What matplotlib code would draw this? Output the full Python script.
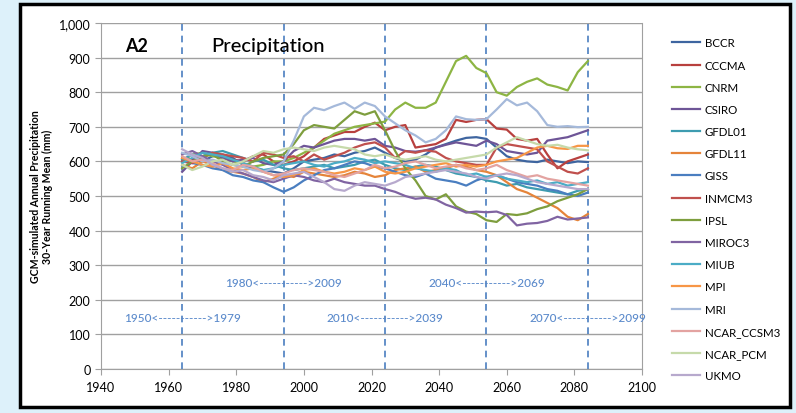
import matplotlib
matplotlib.use("Agg")
import matplotlib.pyplot as plt
from matplotlib.patches import Rectangle
from matplotlib.ticker import FuncFormatter

plt.rcParams['font.family'] = ['Lato', 'DejaVu Sans']

# 30-year running means, sampled every 3 years (1964 ... 2084)
years = list(range(1964, 2085, 3))

BCCR = [610, 605, 600, 615, 620, 610, 590, 580, 575, 570, 565, 580, 600, 605, 610, 620, 615, 625, 630, 640,
        625, 610, 600, 605, 620, 640, 650, 660, 668, 670, 665, 640, 615, 605, 600, 598, 605, 600, 595, 600, 598]
CCCMA = [610, 605, 615, 620, 610, 605, 600, 615, 620, 600, 590, 600, 615, 640, 665, 675, 685, 685, 700, 712,
         690, 700, 705, 640, 645, 650, 665, 720, 714, 720, 722, 695, 692, 665, 660, 665, 620, 580, 600, 610, 620]
CNRM = [600, 620, 625, 615, 610, 600, 595, 585, 590, 600, 600, 610, 625, 640, 660, 680, 690, 700, 705, 710,
        715, 750, 770, 755, 755, 770, 830, 890, 905, 870, 855, 800, 790, 815, 830, 840, 822, 815, 805, 858, 890]
CSIRO = [570, 600, 630, 625, 610, 600, 605, 610, 595, 590, 600, 630, 645, 640, 650, 660, 665, 665, 660, 665,
         645, 640, 630, 628, 632, 640, 648, 655, 650, 645, 660, 650, 630, 625, 620, 625, 660, 665, 670, 680, 690]
GFDL01 = [605, 620, 615, 625, 630, 620, 610, 600, 605, 590, 580, 575, 580, 585, 590, 580, 585, 590, 600, 605,
          590, 580, 575, 585, 590, 585, 575, 565, 560, 555, 545, 540, 530, 535, 525, 520, 515, 510, 505, 515, 520]
GFDL11 = [590, 580, 600, 590, 575, 570, 565, 555, 540, 550, 560, 555, 570, 565, 560, 555, 560, 570, 565, 555,
          560, 575, 580, 585, 570, 575, 580, 590, 585, 575, 570, 560, 540, 520, 510, 495, 480, 465, 440, 430, 448]
GISS = [600, 595, 590, 580, 575, 560, 555, 545, 540, 525, 512, 525, 545, 560, 575, 580, 590, 600, 595, 585,
        580, 570, 560, 555, 565, 550, 545, 540, 530, 545, 555, 560, 550, 540, 535, 530, 520, 515, 505, 500, 510]
INMCM3 = [600, 595, 610, 625, 620, 615, 610, 600, 625, 620, 610, 615, 600, 620, 605, 615, 625, 640, 650, 655,
          640, 610, 630, 625, 632, 628, 610, 600, 595, 590, 590, 640, 650, 645, 640, 635, 600, 585, 570, 565, 580]
IPSL = [580, 600, 615, 620, 600, 590, 585, 600, 610, 615, 620, 650, 690, 705, 700, 695, 720, 745, 735, 745,
        690, 630, 580, 545, 500, 490, 505, 470, 455, 448, 430, 425, 448, 445, 450, 462, 470, 485, 495, 505, 520]
MIROC3 = [620, 630, 615, 600, 590, 575, 565, 555, 545, 540, 550, 560, 555, 545, 540, 550, 540, 535, 530, 530,
          520, 512, 500, 492, 495, 490, 475, 465, 452, 455, 453, 455, 445, 415, 420, 422, 428, 440, 432, 435, 438]
MIUB = [595, 610, 625, 620, 615, 605, 595, 585, 575, 580, 590, 595, 600, 590, 585, 595, 600, 610, 605, 595,
        600, 595, 590, 580, 575, 570, 580, 575, 560, 565, 555, 560, 550, 545, 540, 545, 535, 540, 530, 535, 540]
MPI = [610, 600, 590, 585, 595, 580, 575, 580, 570, 560, 555, 560, 575, 580, 570, 565, 570, 580, 575, 585,
       570, 565, 570, 580, 585, 590, 595, 585, 590, 585, 590, 600, 605, 610, 625, 640, 645, 638, 636, 645, 645]
MRI = [625, 615, 600, 605, 595, 590, 585, 575, 570, 580, 600, 660, 730, 755, 748, 760, 770, 752, 770, 760,
       730, 710, 690, 675, 655, 665, 690, 730, 722, 720, 722, 750, 780, 762, 770, 745, 705, 700, 702, 699, 700]
NCAR_CCSM3 = [615, 600, 605, 595, 580, 575, 590, 585, 570, 560, 565, 575, 580, 575, 570, 560, 555, 565, 575, 590,
              580, 585, 595, 600, 590, 580, 585, 590, 580, 575, 580, 590, 575, 565, 555, 560, 550, 545, 540, 535, 530]
NCAR_PCM = [590, 575, 585, 600, 605, 590, 600, 615, 630, 625, 635, 640, 635, 630, 640, 645, 640, 635, 620, 615,
            620, 610, 605, 610, 615, 605, 600, 605, 610, 615, 620, 640, 655, 670, 660, 650, 645, 648, 640, 635, 632]
UKMO = [635, 620, 610, 590, 580, 570, 575, 560, 555, 545, 560, 565, 570, 555, 540, 520, 515, 530, 540, 535,
        530, 540, 555, 560, 565, 570, 575, 570, 565, 555, 550, 560, 565, 560, 550, 540, 535, 530, 525, 520, 520]

models = ['BCCR', 'CCCMA', 'CNRM', 'CSIRO', 'GFDL01', 'GFDL11', 'GISS', 'INMCM3', 'IPSL',
          'MIROC3', 'MIUB', 'MPI', 'MRI', 'NCAR_CCSM3', 'NCAR_PCM', 'UKMO']
series = [BCCR, CCCMA, CNRM, CSIRO, GFDL01, GFDL11, GISS, INMCM3, IPSL,
          MIROC3, MIUB, MPI, MRI, NCAR_CCSM3, NCAR_PCM, UKMO]
colors = ['#3E65A0', '#B8403E', '#8DB544', '#6E5597', '#3D9CB0', '#E5843A', '#4A7EC0', '#C0504D',
          '#7E9E3E', '#8064A2', '#4BACC6', '#F79646', '#A5B9DA', '#E3A3A1', '#C6DAAA', '#B7A9CD']

period_mid = [1964, 1994, 2024, 2054, 2084]
period_labels = ['1950<----------->1979', '1980<----------->2009', '2010<----------->2039',
                 '2040<----------->2069', '2070<----------->2099']
label_y = [150, 250, 150, 250, 150]

fig = plt.figure(figsize=(7.96, 4.14), dpi=100)
fig.patch.set_facecolor('#DDF1FA')
frame = Rectangle((20 / 796, 1 - 408 / 414), 770 / 796, 403 / 414, transform=fig.transFigure,
                  facecolor='white', edgecolor='black', linewidth=2.5, zorder=-5)
fig.add_artist(frame)

ax = fig.add_axes([101 / 796, 1 - 370 / 414, 541 / 796, 346 / 414])
ax.set_zorder(2)
ax.set_facecolor('white')

for name, vals, c in zip(models, series, colors):
    ax.plot(years, vals, color=c, linewidth=1.6, label=name)

for x in period_mid:
    ax.axvline(x, color='#4A7EC0', linestyle=(0, (4, 3)), linewidth=1.2, zorder=1)
for x, y, s in zip(period_mid, label_y, period_labels):
    ax.text(x, y, s, color='#5B8ACB', fontsize=8.5, fontweight='medium', ha='center', va='center')

ax.text(1947, 935, 'A2', fontsize=13, fontweight='bold', ha='left', va='center')
ax.text(1989.5, 935, 'Precipitation', fontsize=14.5, fontweight='medium', ha='center', va='center')

ax.set_xlim(1940, 2100)
ax.set_ylim(0, 1000)
ax.set_xticks(range(1940, 2101, 20))
ax.set_yticks(range(0, 1001, 100))
ax.yaxis.set_major_formatter(FuncFormatter(lambda v, p: f'{int(v):,}'))
ax.grid(axis='y', color='#A0A0A0', linewidth=1)
ax.set_axisbelow(True)
for sp in ax.spines.values():
    sp.set_color('#A0A0A0')
ax.spines['top'].set_visible(False)
ax.tick_params(colors='#A0A0A0', labelcolor='black', labelsize=9, length=4)
ax.tick_params(axis='x', pad=5)

ax.set_ylabel('GCM-simulated Annual Precipitation\n30-Year Running Mean (mm)',
              fontsize=7.6, fontweight='bold', labelpad=4, linespacing=1.1)

ax.legend(loc='upper left', bbox_to_anchor=(662 / 796, 1 - 28 / 414), bbox_transform=fig.transFigure,
          frameon=False, fontsize=8.3, handlelength=2.4, labelspacing=0.97, handletextpad=0.4)

fig.savefig('out.png', dpi=100, facecolor=fig.get_facecolor())
